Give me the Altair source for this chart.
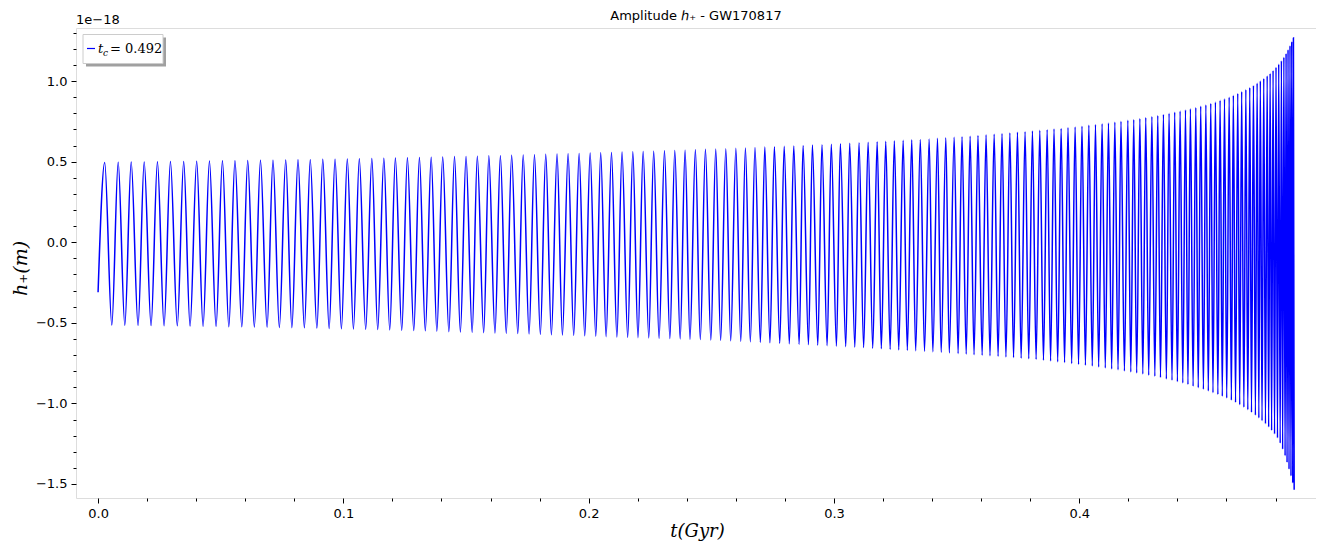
import altair as alt
import pandas as pd

# ---- data (t in Gyr, h in units of 1e-18 m) ----
start_t = [0.0]
start_h = [-0.31]

peak_t = [
    0.0027, 0.0082, 0.0135, 0.0188, 0.0242, 0.0295, 0.0349, 0.0402, 0.0454, 0.0507,
    0.0558, 0.0610, 0.0662, 0.0713, 0.0765, 0.0815, 0.0865, 0.0916, 0.0966, 0.1016,
    0.1065, 0.1116, 0.1165, 0.1212, 0.1261, 0.1310, 0.1358, 0.1405, 0.1453, 0.1500,
    0.1546, 0.1593, 0.1640, 0.1686, 0.1733, 0.1779, 0.1825, 0.1871, 0.1916, 0.1961,
    0.2006, 0.2049, 0.2093, 0.2136, 0.2180, 0.2222, 0.2265, 0.2309, 0.2351, 0.2393,
    0.2435, 0.2476, 0.2518, 0.2559, 0.2600, 0.2639, 0.2678, 0.2718, 0.2757, 0.2797,
    0.2836, 0.2874, 0.2912, 0.2951, 0.2989, 0.3026, 0.3064, 0.3102, 0.3139, 0.3176,
    0.3211, 0.3246, 0.3282, 0.3317, 0.3352, 0.3388, 0.3422, 0.3456, 0.3490, 0.3522,
    0.3555, 0.3587, 0.3620, 0.3653, 0.3685, 0.3717, 0.3748, 0.3779, 0.3809, 0.3839,
    0.3869, 0.3897, 0.3926, 0.3954, 0.3983, 0.4011, 0.4039, 0.4066, 0.4093, 0.4119,
    0.4145, 0.4170, 0.4198, 0.4222, 0.4247, 0.4271, 0.4296, 0.4320, 0.4343, 0.4366,
    0.4389, 0.4411, 0.4433, 0.4453, 0.4475, 0.4495, 0.4516, 0.4536, 0.4555, 0.4574,
    0.4592, 0.4611, 0.4628, 0.4646, 0.4662, 0.4679, 0.4695, 0.4710, 0.4725, 0.4738,
    0.4752, 0.4766, 0.4778, 0.4790, 0.4802, 0.4813, 0.4824, 0.4834, 0.4843, 0.4851,
    0.4859, 0.4866, 0.4873,
]
peak_h = [
    0.495, 0.496, 0.497, 0.498, 0.499, 0.500, 0.501, 0.502, 0.504, 0.505,
    0.506, 0.507, 0.508, 0.509, 0.510, 0.511, 0.512, 0.514, 0.515, 0.517,
    0.518, 0.520, 0.521, 0.523, 0.524, 0.526, 0.527, 0.529, 0.531, 0.532,
    0.534, 0.536, 0.537, 0.539, 0.541, 0.543, 0.545, 0.547, 0.549, 0.551,
    0.553, 0.555, 0.557, 0.559, 0.561, 0.563, 0.565, 0.567, 0.569, 0.571,
    0.573, 0.576, 0.578, 0.580, 0.583, 0.585, 0.587, 0.590, 0.592, 0.595,
    0.597, 0.600, 0.603, 0.605, 0.608, 0.611, 0.614, 0.617, 0.620, 0.623,
    0.626, 0.629, 0.632, 0.635, 0.638, 0.641, 0.645, 0.648, 0.651, 0.655,
    0.658, 0.662, 0.666, 0.670, 0.674, 0.678, 0.682, 0.686, 0.690, 0.694,
    0.698, 0.702, 0.706, 0.711, 0.715, 0.720, 0.725, 0.730, 0.735, 0.740,
    0.745, 0.750, 0.756, 0.761, 0.767, 0.773, 0.780, 0.786, 0.793, 0.800,
    0.807, 0.814, 0.821, 0.828, 0.836, 0.844, 0.852, 0.861, 0.870, 0.880,
    0.890, 0.900, 0.911, 0.923, 0.935, 0.947, 0.960, 0.973, 0.987, 1.001,
    1.016, 1.032, 1.048, 1.066, 1.086, 1.105, 1.126, 1.148, 1.171, 1.195,
    1.220, 1.245, 1.269,
]
trough_t = [
    0.0056, 0.0109, 0.0163, 0.0216, 0.0269, 0.0323, 0.0375, 0.0428, 0.0481, 0.0533,
    0.0586, 0.0637, 0.0689, 0.0739, 0.0790, 0.0841, 0.0892, 0.0942, 0.0992, 0.1041,
    0.1091, 0.1140, 0.1189, 0.1238, 0.1287, 0.1334, 0.1381, 0.1430, 0.1477, 0.1525,
    0.1572, 0.1618, 0.1664, 0.1711, 0.1757, 0.1803, 0.1848, 0.1893, 0.1939, 0.1984,
    0.2029, 0.2071, 0.2115, 0.2159, 0.2201, 0.2245, 0.2287, 0.2331, 0.2373, 0.2413,
    0.2455, 0.2498, 0.2538, 0.2579, 0.2620, 0.2659, 0.2700, 0.2739, 0.2779, 0.2818,
    0.2858, 0.2896, 0.2934, 0.2972, 0.3010, 0.3048, 0.3085, 0.3121, 0.3158, 0.3193,
    0.3229, 0.3264, 0.3299, 0.3333, 0.3369, 0.3403, 0.3437, 0.3470, 0.3506, 0.3539,
    0.3571, 0.3604, 0.3636, 0.3669, 0.3701, 0.3732, 0.3763, 0.3794, 0.3824, 0.3854,
    0.3883, 0.3912, 0.3940, 0.3969, 0.3997, 0.4025, 0.4053, 0.4079, 0.4106, 0.4132,
    0.4158, 0.4184, 0.4210, 0.4234, 0.4259, 0.4283, 0.4308, 0.4331, 0.4355, 0.4378,
    0.4400, 0.4422, 0.4443, 0.4464, 0.4485, 0.4506, 0.4526, 0.4545, 0.4565, 0.4583,
    0.4601, 0.4620, 0.4637, 0.4654, 0.4671, 0.4687, 0.4702, 0.4718, 0.4732, 0.4745,
    0.4759, 0.4772, 0.4784, 0.4796, 0.4808, 0.4819, 0.4829, 0.4839, 0.4847, 0.4855,
    0.4863, 0.4870, 0.4876,
]
trough_h = [
    -0.514, -0.515, -0.516, -0.517, -0.518, -0.519, -0.520, -0.521, -0.522, -0.524,
    -0.525, -0.526, -0.527, -0.529, -0.530, -0.531, -0.533, -0.535, -0.537, -0.538,
    -0.540, -0.542, -0.544, -0.546, -0.548, -0.550, -0.552, -0.555, -0.557, -0.559,
    -0.561, -0.563, -0.565, -0.567, -0.569, -0.571, -0.574, -0.576, -0.578, -0.581,
    -0.583, -0.586, -0.588, -0.590, -0.592, -0.594, -0.596, -0.598, -0.600, -0.602,
    -0.604, -0.607, -0.609, -0.612, -0.615, -0.618, -0.621, -0.624, -0.627, -0.630,
    -0.633, -0.636, -0.639, -0.642, -0.645, -0.648, -0.651, -0.654, -0.658, -0.661,
    -0.665, -0.668, -0.671, -0.674, -0.677, -0.680, -0.683, -0.687, -0.691, -0.694,
    -0.698, -0.701, -0.705, -0.708, -0.712, -0.716, -0.720, -0.723, -0.727, -0.732,
    -0.737, -0.742, -0.747, -0.753, -0.758, -0.763, -0.768, -0.774, -0.780, -0.786,
    -0.792, -0.799, -0.805, -0.811, -0.818, -0.825, -0.832, -0.840, -0.848, -0.856,
    -0.865, -0.874, -0.883, -0.893, -0.903, -0.913, -0.923, -0.934, -0.945, -0.956,
    -0.967, -0.980, -0.994, -1.009, -1.024, -1.040, -1.056, -1.073, -1.090, -1.108,
    -1.127, -1.147, -1.168, -1.190, -1.214, -1.247, -1.285, -1.325, -1.367, -1.409,
    -1.451, -1.494, -1.536,
]

x_major = [0.0, 0.1, 0.2, 0.3, 0.4]
y_major = [-1.5, -1.0, -0.5, 0.0, 0.5, 1.0]
x_ticks = [round(i * 0.02, 2) for i in range(0, 25)]
y_ticks = [round(-1.5 + i * 0.1, 1) for i in range(0, 29)]

legend_label = "0.492"

# ---- table ----
rows = [(t, h) for t, h in zip(start_t, start_h)]
rows += list(zip(peak_t, peak_h)) + list(zip(trough_t, trough_h))
df = pd.DataFrame(rows, columns=["t", "h"]).sort_values("t").reset_index(drop=True)

W, H = 1240, 470
major_test_x = "abs(datum.value*10 - round(datum.value*10)) < 1e-6"
major_test_y = "abs(datum.value*2 - round(datum.value*2)) < 1e-6"

x_axis = alt.Axis(
    values=x_ticks,
    labelExpr=f"{major_test_x} ? format(datum.value, '.1f') : ''",
    tickSize={"condition": {"test": major_test_x, "value": 5}, "value": 3},
    labelOverlap=False, labelFlush=False, labelBound=False,
    grid=False, domain=False, tickColor="black", tickWidth=1,
    labelColor="black", labelFont="DejaVu Sans", labelFontSize=13, labelPadding=4,
    title="t(Gyr)", titleFont="DejaVu Serif", titleFontStyle="italic",
    titleFontWeight="normal", titleFontSize=18, titleColor="black",
    titleX=621, titleY=33, titleAlign="center", titleBaseline="middle",
)
y_axis = alt.Axis(
    values=y_ticks,
    labelExpr=f"{major_test_y} ? format(datum.value, '.1f') : ''",
    tickSize={"condition": {"test": major_test_y, "value": 5}, "value": 3},
    labelOverlap=False, labelFlush=False, labelBound=False,
    grid=False, domain=False, tickColor="black", tickWidth=1,
    labelColor="black", labelFont="DejaVu Sans", labelFontSize=13, labelPadding=4,
    title="h₊(m)", titleFont="DejaVu Serif", titleFontStyle="italic",
    titleFontWeight="normal", titleFontSize=19, titleColor="black",
    titleX=-56, titleY=240, titleAngle=270, titleAlign="center", titleBaseline="middle",
)

line = alt.Chart(df).mark_line(
    interpolate="monotone", color="#0000ff", strokeWidth=1.5, clip=True
).encode(
    x=alt.X("t:Q", scale=alt.Scale(domain=[-0.009, 0.4965], nice=False, zero=False), axis=x_axis),
    y=alt.Y("h:Q", scale=alt.Scale(domain=[-1.587, 1.329], nice=False, zero=False), axis=y_axis),
)

one = pd.DataFrame({"k": [0]})

shadow = alt.Chart(one).mark_rect(color="#a0a0a0").encode(
    x=alt.value(10), x2=alt.value(90), y=alt.value(9.5), y2=alt.value(38.5)
)
box = alt.Chart(one).mark_rect(fill="white", stroke="#cccccc", strokeWidth=1).encode(
    x=alt.value(7), x2=alt.value(87), y=alt.value(6.5), y2=alt.value(35.5)
)
sample = alt.Chart(one).mark_rule(color="#0000ff", strokeWidth=1.2).encode(
    x=alt.value(11), x2=alt.value(19), y=alt.value(20.5)
)
leg_t = alt.Chart(one).mark_text(
    text="t", font="DejaVu Serif", fontStyle="italic", fontSize=13, align="left",
    baseline="alphabetic", color="black"
).encode(x=alt.value(22), y=alt.value(25))
leg_c = alt.Chart(one).mark_text(
    text="c", font="DejaVu Serif", fontStyle="italic", fontSize=9, align="left",
    baseline="alphabetic", color="black"
).encode(x=alt.value(27), y=alt.value(28))
leg_v = alt.Chart(one).mark_text(
    text="= " + legend_label, font="DejaVu Serif", fontSize=13, align="left",
    baseline="alphabetic", color="black"
).encode(x=alt.value(34), y=alt.value(25))

title = alt.Chart(one).mark_text(
    text="Amplitude ℎ₊ - GW170817", font="DejaVu Sans", fontSize=13,
    align="center", baseline="middle", color="black"
).encode(x=alt.value(620), y=alt.value(-12))
offset = alt.Chart(one).mark_text(
    text="1e−18", font="DejaVu Sans", fontSize=13, align="left",
    baseline="alphabetic", color="black"
).encode(x=alt.value(0), y=alt.value(-4))

chart = alt.layer(line, shadow, box, sample, leg_t, leg_c, leg_v, title, offset).properties(
    width=W, height=H,
    autosize=alt.AutoSizeParams(type="none"),
    padding={"left": 68, "top": 20, "right": 0, "bottom": 43},
).configure_view(
    stroke="#666666", strokeWidth=1.5
).configure(background="white")

chart.save("out.html", embed_options={"renderer": "svg", "actions": False})
